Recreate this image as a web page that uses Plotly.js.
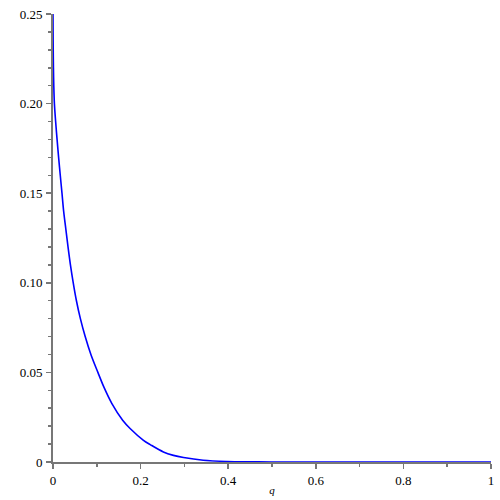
<!DOCTYPE html>
<html>
<head>
<meta charset="utf-8">
<script src="https://cdn.plot.ly/plotly-3.0.1.min.js"></script>
<style>html,body{margin:0;padding:0;background:#fff;}#chart{width:500px;height:500px;}</style>
</head>
<body>
<div id="chart"></div>
<script>
// values
const qValues = [0, 0.0002, 0.0005, 0.001, 0.0018, 0.0032, 0.006, 0.0093, 0.0128, 0.0166, 0.0205, 0.0243, 0.0293, 0.0343, 0.0398, 0.0462, 0.0535, 0.0625, 0.0735, 0.0865, 0.1025, 0.116, 0.1345, 0.159, 0.176, 0.2066, 0.222, 0.252, 0.275, 0.298, 0.343, 0.397, 0.45, 0.5, 0.6, 0.7, 0.8, 0.9, 1.0];
const fValues = [0.25, 0.24, 0.23, 0.22, 0.21, 0.20, 0.19, 0.18, 0.17, 0.16, 0.15, 0.14, 0.13, 0.12, 0.11, 0.10, 0.09, 0.08, 0.07, 0.06, 0.05, 0.0419, 0.0326, 0.0233, 0.0187, 0.0121, 0.0097, 0.0056, 0.0037, 0.0025, 0.0010, 0.0003, 0.0001, 0.00003, 0, 0, 0, 0, 0];
const xTickVals = [0, 0.2, 0.4, 0.6, 0.8, 1];
const xTickText = ["0", "0.2", "0.4", "0.6", "0.8", "1"];
const yTickVals = [0, 0.05, 0.10, 0.15, 0.20, 0.25];
const yTickText = ["0", "0.05", "0.10", "0.15", "0.20", "0.25"];
const xTitle = "<i>q</i>";

const axisColor = "#777777";
const serif = "Liberation Serif";
const tickFont = {family: serif, size: 13, color: "#000"};

const trace = {
  x: qValues, y: fValues, type: "scatter", mode: "lines",
  line: {color: "#0000ff", width: 1.6, shape: "spline", smoothing: 1},
  cliponaxis: false, hoverinfo: "skip"
};

const layout = {
  width: 500, height: 500,
  margin: {l: 53, r: 9, t: 14, b: 38},
  paper_bgcolor: "#fff", plot_bgcolor: "#fff",
  showlegend: false,
  font: {family: serif, size: 13, color: "#000"},
  xaxis: {
    range: [0, 1], tickmode: "array", tickvals: xTickVals, ticktext: xTickText,
    showgrid: false, zeroline: false, showline: true, linecolor: axisColor, linewidth: 2,
    ticks: "outside", ticklen: 5, tickwidth: 1.5, tickcolor: axisColor,
    minor: {dtick: 0.1, ticks: "outside", ticklen: 3, tickwidth: 1.5, tickcolor: axisColor, showgrid: false},
    tickfont: tickFont, layer: "below traces",
    title: {text: xTitle, font: {family: serif, size: 11, color: "#000"}, standoff: 0}
  },
  yaxis: {
    range: [0, 0.25], tickmode: "array", tickvals: yTickVals, ticktext: yTickText,
    showgrid: false, zeroline: false, showline: true, linecolor: axisColor, linewidth: 2,
    ticks: "outside", ticklen: 5, tickwidth: 1.5, tickcolor: axisColor,
    minor: {dtick: 0.01, ticks: "outside", ticklen: 3, tickwidth: 1.5, tickcolor: axisColor, showgrid: false},
    tickfont: tickFont, layer: "below traces", ticklabelstandoff: 1
  }
};

Plotly.newPlot("chart", [trace], layout, {displayModeBar: false, staticPlot: true});
</script>
</body>
</html>
